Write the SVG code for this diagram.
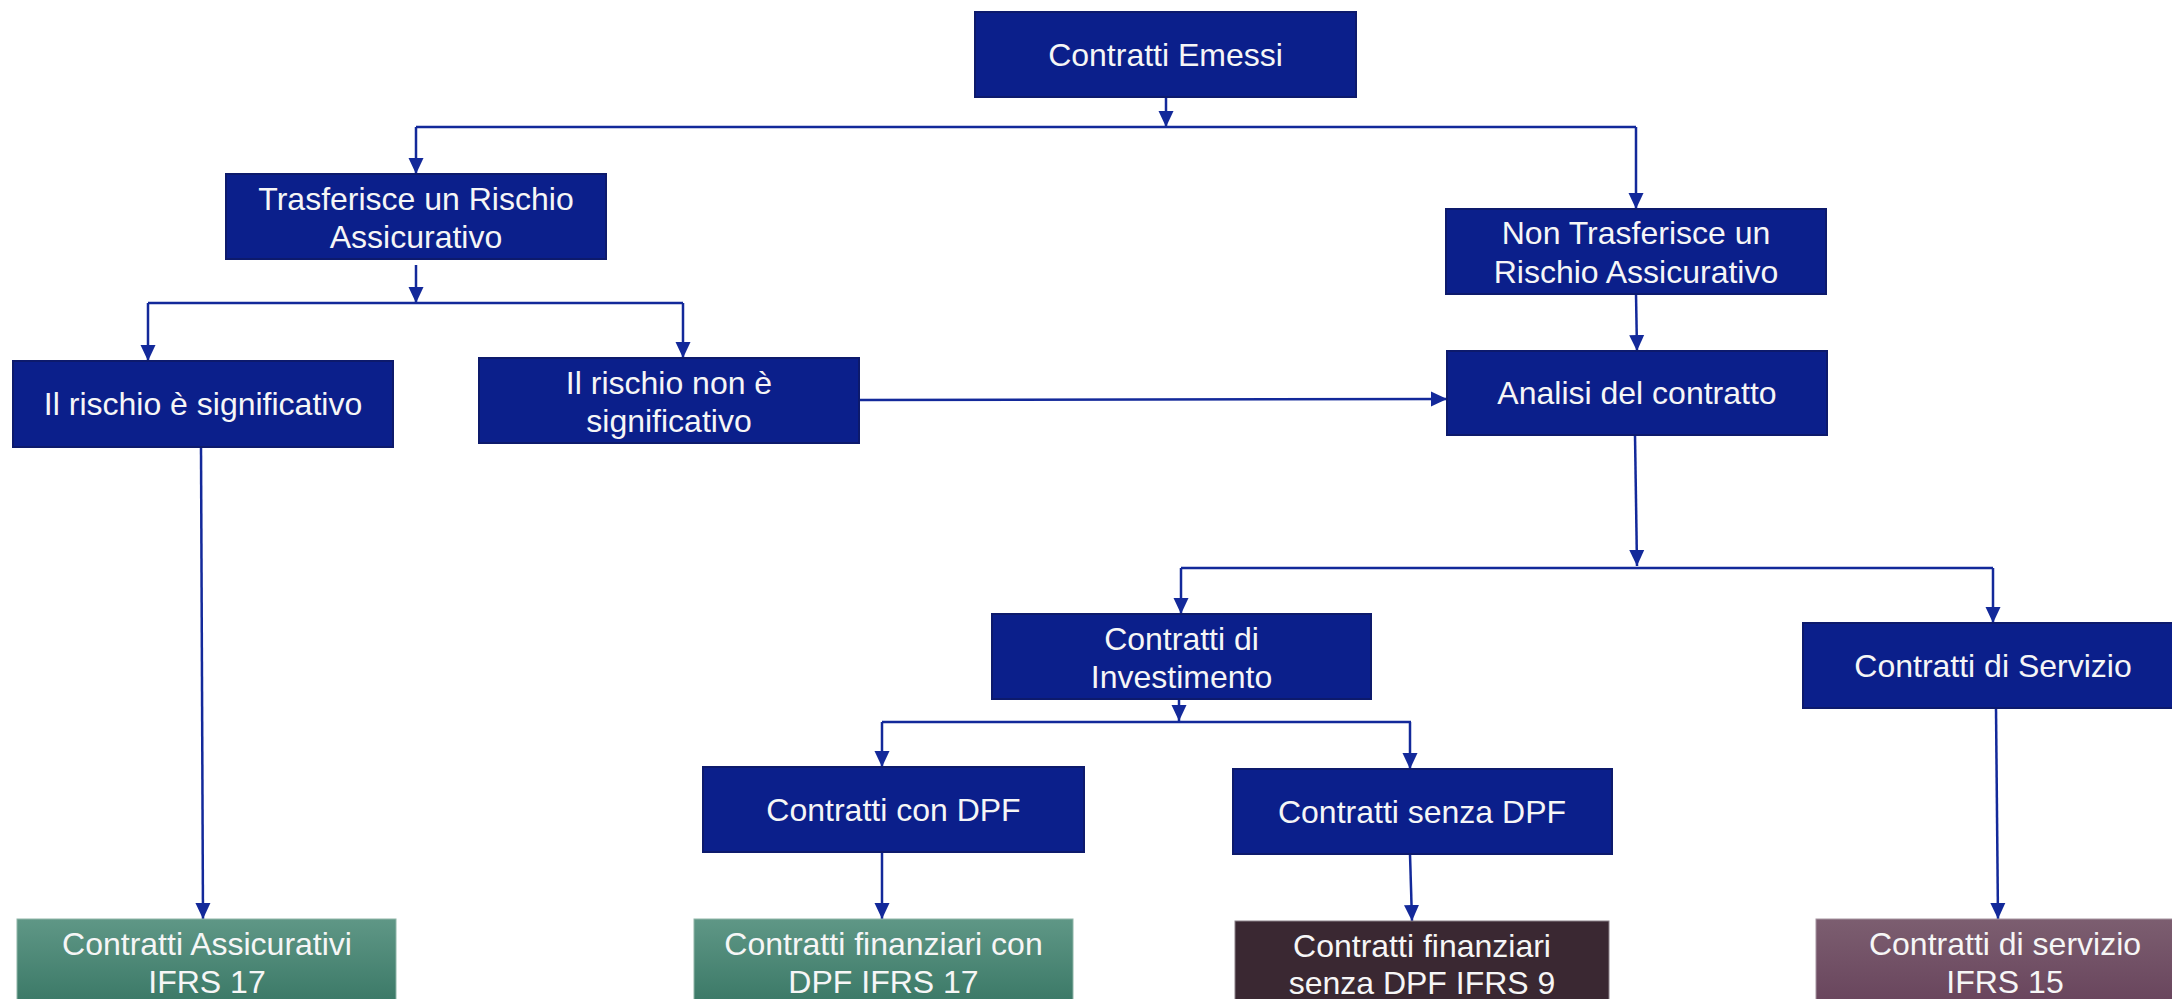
<svg xmlns="http://www.w3.org/2000/svg" width="2172" height="999" viewBox="0 0 2172 999">
  <defs>
    <style>
      .box { fill: #0b1f8b; stroke: #0d1a6c; stroke-width: 2; }
      .lbl { font-family: "Liberation Sans", Arial, sans-serif; font-size: 32px; fill: #f6f6f6; text-anchor: middle; }
      .link { fill: none; stroke: #13299a; stroke-width: 2.5; }
      .arrow { fill: none; stroke: #13299a; stroke-width: 2.5; marker-end: url(#tip); }
    </style>
    <marker id="tip" viewBox="0 0 16 16" refX="16" refY="8" markerWidth="16" markerHeight="16" markerUnits="userSpaceOnUse" orient="auto">
      <path d="M0,0.5 L16,8 L0,15.5 Z" fill="#13299a"/>
    </marker>
    <linearGradient id="gGreen" x1="0" y1="0" x2="0" y2="1">
      <stop offset="0" stop-color="#5f9786"/>
      <stop offset="1" stop-color="#3a7866"/>
    </linearGradient>
    <linearGradient id="gPlum" x1="0" y1="0" x2="0" y2="1">
      <stop offset="0" stop-color="#7c5e70"/>
      <stop offset="1" stop-color="#68445c"/>
    </linearGradient>
  </defs>

  <rect width="2172" height="999" fill="#ffffff"/>

  <!-- connectors -->
  <g id="connectors">
    <path class="arrow" d="M1166,97 V127"/>
    <path class="link" d="M416,127 H1636"/>
    <path class="arrow" d="M416,127 V174"/>
    <path class="arrow" d="M1636,127 V209"/>

    <path class="arrow" d="M416,265 V303"/>
    <path class="link" d="M148,303 H683"/>
    <path class="arrow" d="M148,303 V361"/>
    <path class="arrow" d="M683,303 V358"/>

    <path class="arrow" d="M859,400 L1447,399"/>
    <path class="arrow" d="M201,447 L203,919"/>

    <path class="arrow" d="M1636,294 L1637,351"/>
    <path class="arrow" d="M1635,435 L1637,566"/>
    <path class="link" d="M1181,568 H1993"/>
    <path class="arrow" d="M1181,568 V614"/>
    <path class="arrow" d="M1993,568 V623"/>

    <path class="arrow" d="M1179,699 V721"/>
    <path class="link" d="M882,722 H1411"/>
    <path class="arrow" d="M882,722 V767"/>
    <path class="arrow" d="M1410,722 V769"/>

    <path class="arrow" d="M882,852 V919"/>
    <path class="arrow" d="M1410,854 L1412,921"/>
    <path class="arrow" d="M1996,708 L1998,919"/>
  </g>

  <!-- nodes -->
  <g id="n-emessi">
    <rect class="box" x="975" y="12" width="381" height="85"/>
    <text class="lbl" x="1165.5" y="66">Contratti Emessi</text>
  </g>

  <g id="n-trasferisce">
    <rect class="box" x="226" y="174" width="380" height="85"/>
    <text class="lbl" x="416" y="210">Trasferisce un Rischio</text>
    <text class="lbl" x="416" y="248">Assicurativo</text>
  </g>

  <g id="n-non-trasferisce">
    <rect class="box" x="1446" y="209" width="380" height="85"/>
    <text class="lbl" x="1636" y="244">Non Trasferisce un</text>
    <text class="lbl" x="1636" y="283">Rischio Assicurativo</text>
  </g>

  <g id="n-significativo">
    <rect class="box" x="13" y="361" width="380" height="86"/>
    <text class="lbl" x="203" y="415">Il rischio è significativo</text>
  </g>

  <g id="n-non-significativo">
    <rect class="box" x="479" y="358" width="380" height="85"/>
    <text class="lbl" x="669" y="394">Il rischio non è</text>
    <text class="lbl" x="669" y="432">significativo</text>
  </g>

  <g id="n-analisi">
    <rect class="box" x="1447" y="351" width="380" height="84"/>
    <text class="lbl" x="1637" y="404">Analisi del contratto</text>
  </g>

  <g id="n-investimento">
    <rect class="box" x="992" y="614" width="379" height="85"/>
    <text class="lbl" x="1181.5" y="650">Contratti di</text>
    <text class="lbl" x="1181.5" y="688">Investimento</text>
  </g>

  <g id="n-servizio">
    <rect class="box" x="1803" y="623" width="380" height="85"/>
    <text class="lbl" x="1993" y="677">Contratti di Servizio</text>
  </g>

  <g id="n-con-dpf">
    <rect class="box" x="703" y="767" width="381" height="85"/>
    <text class="lbl" x="893.5" y="821">Contratti con DPF</text>
  </g>

  <g id="n-senza-dpf">
    <rect class="box" x="1233" y="769" width="379" height="85"/>
    <text class="lbl" x="1422" y="823">Contratti senza DPF</text>
  </g>

  <g id="n-assicurativi-ifrs17">
    <rect x="17" y="919" width="379" height="86" fill="url(#gGreen)" stroke="#8fb5a8" stroke-width="1"/>
    <text class="lbl" x="207" y="955">Contratti Assicurativi</text>
    <text class="lbl" x="207" y="993">IFRS 17</text>
  </g>

  <g id="n-finanziari-dpf-ifrs17">
    <rect x="694" y="919" width="379" height="86" fill="url(#gGreen)" stroke="#8fb5a8" stroke-width="1"/>
    <text class="lbl" x="883.5" y="955">Contratti finanziari con</text>
    <text class="lbl" x="883.5" y="993">DPF IFRS 17</text>
  </g>

  <g id="n-finanziari-ifrs9">
    <rect x="1235" y="921" width="374" height="86" fill="#3a2832" stroke="#8a8088" stroke-width="1"/>
    <text class="lbl" x="1422" y="957">Contratti finanziari</text>
    <text class="lbl" x="1422" y="994">senza DPF IFRS 9</text>
  </g>

  <g id="n-servizio-ifrs15">
    <rect x="1816" y="919" width="378" height="86" fill="url(#gPlum)" stroke="#a693a0" stroke-width="1"/>
    <text class="lbl" x="2005" y="955">Contratti di servizio</text>
    <text class="lbl" x="2005" y="993">IFRS 15</text>
  </g>
</svg>
